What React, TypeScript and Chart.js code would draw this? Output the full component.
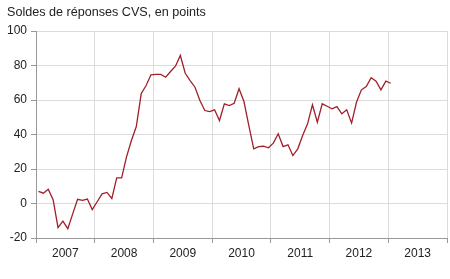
import React, { useEffect, useRef } from "react";
import { Chart, registerables } from "chart.js";

Chart.register(...registerables);

const title = "Soldes de réponses CVS, en points";
const years = ["2007", "2008", "2009", "2010", "2011", "2012", "2013"];
const yTicks = [-20, 0, 20, 40, 60, 80, 100];

const v2007 = [7, 6, 8.3, 2.2, -14, -10.2, -14.6, -6, 2.4, 1.8, 2.6, -3.5];
const v2008 = [1, 5.6, 6.4, 2.9, 14.9, 14.9, 27, 36.5, 44.6, 63.6, 68.4, 74.6];
const v2009 = [74.8, 74.8, 73.2, 76.5, 79.6, 85.8, 75.5, 71.3, 67.4, 59.7, 53.9, 53.3];
const v2010 = [54.3, 48.1, 57.8, 56.8, 58.1, 66.5, 59.1, 45.2, 31.7, 33, 33.2, 32.3];
const v2011 = [35, 40.4, 33, 34, 27.8, 31.7, 39.4, 46.2, 57.2, 47.1, 57.8, 56.4];
const v2012 = [54.9, 56.2, 52, 54.3, 46.6, 58.7, 65.9, 67.8, 72.9, 70.9, 65.9, 70.9];
const v2013 = [69.7];

const values = [...v2007, ...v2008, ...v2009, ...v2010, ...v2011, ...v2012, ...v2013];

export default function App() {
  const ref = useRef<HTMLCanvasElement>(null);

  useEffect(() => {
    if (!ref.current) return;
    const data = values.map((v, i) => ({ x: i + 0.5, y: v }));
    const titlePlugin = {
      id: "leftTitle",
      afterDraw(chart: any) {
        const ctx = chart.ctx;
        ctx.save();
        ctx.font = "12.6px 'Liberation Sans', Arial, sans-serif";
        ctx.fillStyle = "#222";
        ctx.textBaseline = "alphabetic";
        ctx.textAlign = "left";
        ctx.fillText(title, 7, 16);
        ctx.restore();
      },
    };
    const chart = new Chart(ref.current, {
      type: "scatter",
      data: {
        datasets: [
          {
            data,
            showLine: true,
            borderColor: "#a0202a",
            borderWidth: 1.3,
            pointRadius: 0,
            pointHoverRadius: 0,
            fill: false,
            tension: 0,
          },
        ],
      },
      options: {
        animation: false,
        responsive: false,
        layout: { padding: { top: 31, right: 3, left: 0, bottom: 0 } },
        plugins: { legend: { display: false }, tooltip: { enabled: false }, title: { display: false } },
        scales: {
          x: {
            type: "linear",
            min: 0,
            max: years.length * 12,
            afterBuildTicks: (scale: any) => {
              const t = [];
              for (let v = 0; v <= years.length * 12; v += 6) t.push({ value: v });
              scale.ticks = t;
            },
            afterFit: (scale: any) => {
              scale.height = 41;
            },
            ticks: {
              autoSkip: false,
              maxRotation: 0,
              padding: 3,
              color: "#222",
              font: { family: "'Liberation Sans', Arial, sans-serif", size: 12 },
              callback: (val: any) => {
                const v = Number(val);
                if (v % 12 === 6) return years[(v - 6) / 12];
                return "";
              },
            },
            grid: {
              color: (ctx: any) => (ctx.tick && ctx.tick.value % 12 === 0 ? "#dcdcdc" : "rgba(0,0,0,0)"),
              tickColor: (ctx: any) => (ctx.tick && ctx.tick.value % 12 === 0 ? "#999" : "rgba(0,0,0,0)"),
              tickLength: 5,
              lineWidth: 1,
            },
            border: { color: "#999", width: 1 },
          },
          y: {
            min: -20,
            max: 100,
            afterBuildTicks: (scale: any) => {
              scale.ticks = yTicks.map((v) => ({ value: v }));
            },
            afterFit: (scale: any) => {
              scale.width = 36;
            },
            ticks: {
              padding: 4,
              color: "#222",
              font: { family: "'Liberation Sans', Arial, sans-serif", size: 12 },
            },
            grid: {
              color: "#dcdcdc",
              tickColor: "#999",
              tickLength: 5,
              lineWidth: 1,
            },
            border: { color: "#999", width: 1 },
          },
        },
      },
      plugins: [titlePlugin],
    });
    return () => chart.destroy();
  }, []);

  return (
    <div style={{ position: "fixed", left: 0, top: 0, width: 450, height: 279, background: "#fff" }}>
      <canvas ref={ref} width={450} height={279} />
    </div>
  );
}
